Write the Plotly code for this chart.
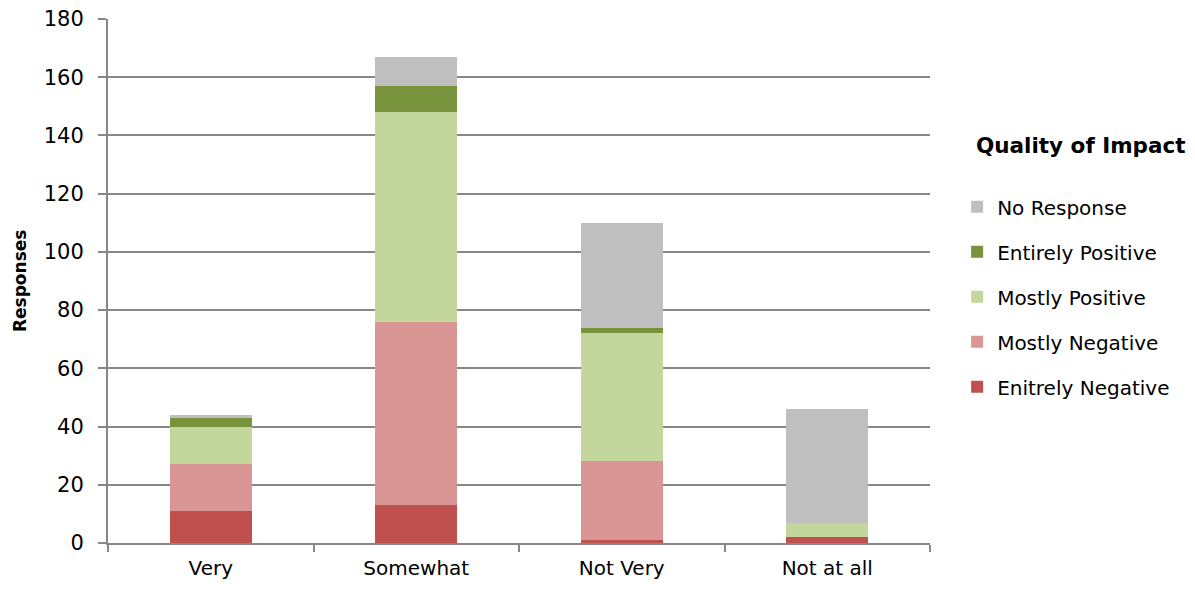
import plotly.graph_objects as go

categories = ["Very", "Somewhat", "Not Very", "Not at all"]
entirely_negative = [11, 13, 1, 2]
mostly_negative = [16, 63, 27, 0]
mostly_positive = [13, 72, 44, 5]
entirely_positive = [3, 9, 2, 0]
no_response = [1, 10, 36, 39]

# stacked bottom-to-top; legend lists them top-to-bottom
series = [
    ("Enitrely Negative", entirely_negative, "#C0504D"),
    ("Mostly Negative", mostly_negative, "#D99694"),
    ("Mostly Positive", mostly_positive, "#C3D69B"),
    ("Entirely Positive", entirely_positive, "#77933C"),
    ("No Response", no_response, "#BFBFBF"),
]

font_family = "'DejaVu Sans', sans-serif"
axis_grey = "#878787"

fig = go.Figure()
for i, (name, vals, color) in enumerate(series):
    fig.add_trace(go.Bar(
        x=categories, y=vals, name=name, legendgroup=name,
        legendrank=1000 - i,
        marker=dict(color=color, line=dict(width=0)),
    ))

fig.update_layout(
    barmode="stack",
    bargap=0.6,
    width=1195, height=589,
    margin=dict(l=108, r=265, t=19, b=46),
    plot_bgcolor="white", paper_bgcolor="white",
    font=dict(family=font_family, size=20, color="#000000"),
    xaxis=dict(
        tickson="boundaries", ticks="outside", ticklen=7, tickwidth=2,
        tickcolor=axis_grey, showline=True, linecolor=axis_grey, linewidth=2,
        showgrid=False, tickfont=dict(size=20), automargin=False,
        ticklabelstandoff=6,
    ),
    yaxis=dict(
        range=[0, 180], dtick=20, ticks="outside", ticklen=8, tickwidth=2,
        tickcolor=axis_grey, showline=True, linecolor=axis_grey, linewidth=2,
        showgrid=True, gridcolor=axis_grey, gridwidth=2, zeroline=False,
        tickfont=dict(size=21), automargin=False, ticklabelstandoff=10,
    ),
    legend=dict(
        x=1.033, y=0.679, xanchor="left", yanchor="top",
        traceorder="grouped", tracegroupgap=16,
        font=dict(size=20), bgcolor="rgba(0,0,0,0)",
    ),
    annotations=[
        dict(
            text="<b>Quality of Impact</b>", xref="paper", yref="paper",
            x=1.054, y=0.758, xanchor="left", yanchor="middle",
            showarrow=False, font=dict(size=21.5),
        ),
        dict(
            text="<b>Responses</b>", xref="paper", yref="paper",
            x=-0.107, y=0.5, xanchor="center", yanchor="middle",
            textangle=-90, showarrow=False, font=dict(size=17),
        ),
    ],
)

fig.write_html("out.html")
